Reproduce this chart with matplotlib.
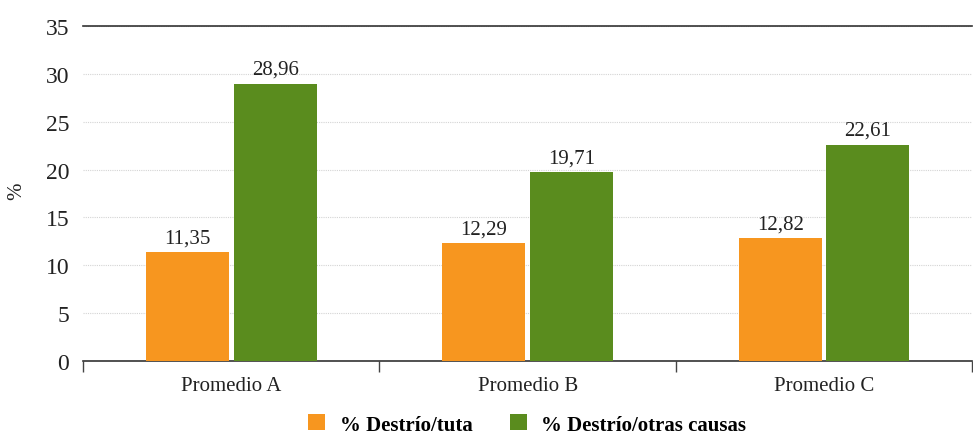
import numpy as np
import matplotlib.pyplot as plt

#### datos
grupos = ['Promedio A', 'Promedio B', 'Promedio C']
tuta = [11.35, 12.29, 12.82]
otras = [28.96, 19.71, 22.61]
etiquetas_y = [0, 5, 10, 15, 20, 25, 30, 35]

plt.rcParams['font.family'] = ['Liberation Serif', 'DejaVu Serif']

fig = plt.figure(figsize=(9.73, 4.35), dpi=100)
ax = fig.add_axes([0.0853, 0.168, 0.914, 0.770])

x = np.arange(len(grupos))
w = 0.28
b1 = ax.bar(x - w/2 - 0.008, tuta, w, color='#F7961F', label='% Destrío/tuta', zorder=3)
b2 = ax.bar(x + w/2 + 0.008, otras, w, color='#5A8C1E', label='% Destrío/otras causas', zorder=3)

for rects, vals in ((b1, tuta), (b2, otras)):
   for r, v in zip(rects, vals):
      ax.text(r.get_x() + r.get_width()/2, v + 0.5, ('%.2f' % v).replace('.', ','),
              ha='center', va='bottom', fontsize=15, color='#222222')

ax.set_xlim(-0.5, 2.5)
ax.set_ylim(0, 35)
ax.set_yticks(etiquetas_y)
ax.set_yticklabels([str(v) for v in etiquetas_y], fontsize=17, color='#222222')
ax.set_xticks(x)
ax.set_xticklabels(grupos, fontsize=15, color='#222222')
ax.set_xticks([-0.5, 0.5, 1.5, 2.5], minor=True)
ax.tick_params(axis='x', which='major', length=0, pad=11)
ax.tick_params(axis='x', which='minor', length=8, width=1, color='#444444', direction='out')
ax.tick_params(axis='y', length=0, pad=10)

ax.grid(axis='y', color='#d4d4d4', linewidth=0.8, linestyle=(0, (1, 1)), zorder=0)
for s in ['left', 'right']:
   ax.spines[s].set_visible(False)
ax.spines['top'].set_color('#333333')
ax.spines['top'].set_linewidth(1.2)
ax.spines['bottom'].set_color('#333333')
ax.spines['bottom'].set_linewidth(1.2)

ax.set_ylabel('%', fontsize=15, color='#222222', va='center')
ax.yaxis.set_label_coords(-0.074, 0.51)

leg = fig.legend(loc='center', bbox_to_anchor=(0.542, 0.022), ncol=2, frameon=False,
                 prop={'weight': 'bold', 'size': 15}, handlelength=0.8, handleheight=0.8,
                 columnspacing=1.8, handletextpad=0.7)

plt.savefig('out.png', dpi=100)
